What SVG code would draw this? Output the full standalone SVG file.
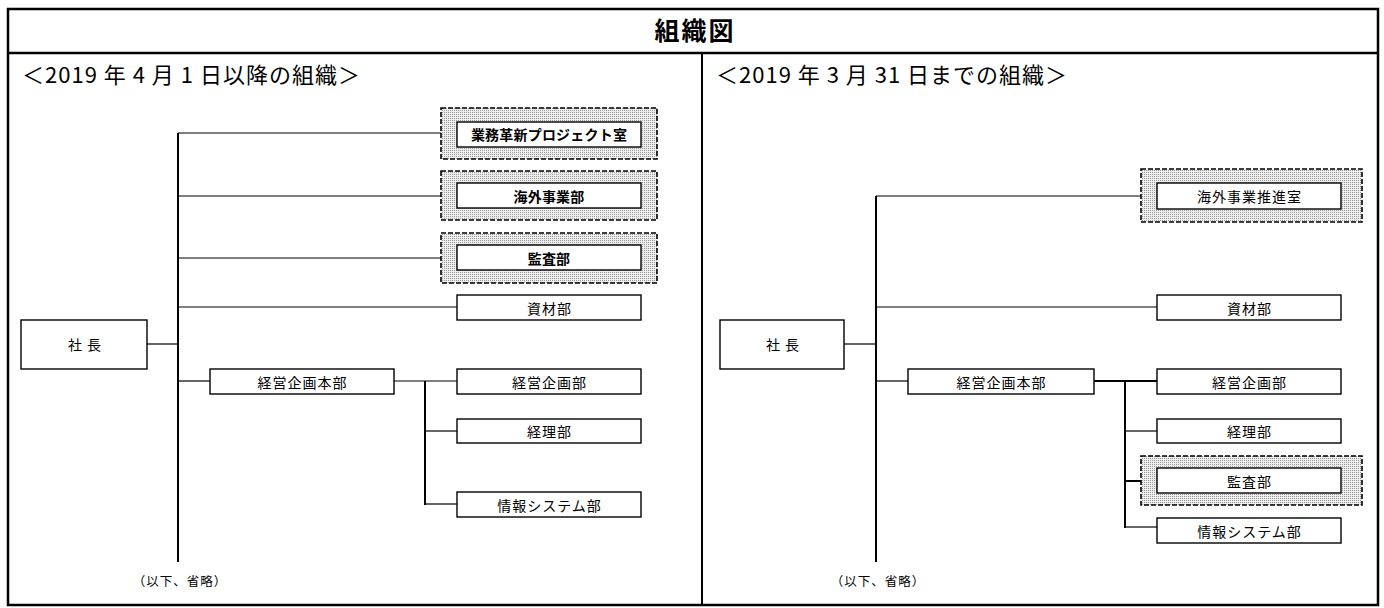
<svg xmlns="http://www.w3.org/2000/svg" width="1384" height="608" viewBox="0 0 1384 608">
<style>
text{font-family:"Noto Sans CJK JP","Noto Sans CJK SC",sans-serif;fill:#000}
.lbl{font-size:14px;text-anchor:middle;dominant-baseline:central;letter-spacing:1px}
.b{font-weight:bold;letter-spacing:0.2px}
.box{fill:#fff;stroke:#000;stroke-width:1.4}
.shade{fill:url(#dots);stroke:#000;stroke-width:1.6;stroke-dasharray:5 2}
.hdr{font-size:22px;letter-spacing:1px}
.note{font-size:12.5px;text-anchor:middle;dominant-baseline:central;letter-spacing:1px}
#conn line{stroke:#000;stroke-width:1.2}
#conn .trunk{stroke-width:2}
#conn .thick{stroke-width:2}
.frame{fill:none;stroke:#000;stroke-width:2.5}
</style>
<defs>
<pattern id="dots" width="2" height="2" patternUnits="userSpaceOnUse">
<rect width="2" height="2" fill="#eeeeee"/>
<rect width="1" height="1" fill="#9a9a9a"/>
</pattern>
</defs>
<rect width="1384" height="608" fill="#fff"/>
<g id="frame">
<rect class="frame" x="8" y="9" width="1370" height="596"/>
<line x1="8" y1="53" x2="1378" y2="53" stroke="#000" stroke-width="2.5"/>
<line x1="702" y1="53" x2="702" y2="605" stroke="#000" stroke-width="2"/>
<text x="695" y="40" font-size="25" font-weight="bold" text-anchor="middle" letter-spacing="2">組織図</text>
<text class="hdr" x="22" y="83">＜2019 年 4 月 1 日以降の組織＞</text>
<text class="hdr" x="716" y="83">＜2019 年 3 月 31 日までの組織＞</text>
</g>
<g id="conn">
<line x1="147" y1="344" x2="178" y2="344"/>
<line class="trunk" x1="178" y1="133" x2="178" y2="562"/>
<line x1="178" y1="133" x2="457" y2="133"/>
<line x1="178" y1="196" x2="457" y2="196"/>
<line x1="178" y1="258" x2="457" y2="258"/>
<line x1="178" y1="307" x2="457" y2="307"/>
<line x1="178" y1="381" x2="210" y2="381"/>
<line x1="394" y1="381" x2="457" y2="381"/>
<line class="trunk" x1="425" y1="381" x2="425" y2="505"/>
<line x1="425" y1="431" x2="457" y2="431"/>
<line x1="425" y1="504" x2="457" y2="504"/>
<line x1="844" y1="344" x2="876" y2="344"/>
<line class="trunk" x1="876" y1="196" x2="876" y2="562"/>
<line x1="876" y1="196" x2="1157" y2="196"/>
<line x1="876" y1="307" x2="1157" y2="307"/>
<line x1="876" y1="381" x2="908" y2="381"/>
<line class="thick" x1="1094" y1="381" x2="1157" y2="381"/>
<line class="trunk" x1="1125" y1="381" x2="1125" y2="528"/>
<line x1="1125" y1="431" x2="1157" y2="431"/>
<line class="thick" x1="1125" y1="481" x2="1157" y2="481"/>
<line x1="1125" y1="527" x2="1157" y2="527"/>
</g>
<g id="L-president"><rect class="box" x="21" y="320" width="126" height="49"/><text class="lbl" x="85" y="344" letter-spacing="3">社 長</text></g>
<g id="L-gyomu"><rect class="shade" x="441" y="108" width="216" height="51"/><rect class="box" x="457" y="122" width="184" height="25"/><text class="lbl b" x="549" y="134">業務革新プロジェクト室</text></g>
<g id="L-kaigai"><rect class="shade" x="441" y="171" width="216" height="49"/><rect class="box" x="457" y="183" width="184" height="25"/><text class="lbl b" x="549" y="195.5">海外事業部</text></g>
<g id="L-kansa"><rect class="shade" x="441" y="233" width="216" height="50"/><rect class="box" x="457" y="245" width="184" height="25"/><text class="lbl b" x="549" y="257.5">監査部</text></g>
<g id="L-shizai"><rect class="box" x="457" y="295" width="184" height="25"/><text class="lbl" x="549.5" y="307.5">資材部</text></g>
<g id="L-honbu"><rect class="box" x="210" y="369" width="184" height="25"/><text class="lbl" x="302.5" y="381.5">経営企画本部</text></g>
<g id="L-kikaku"><rect class="box" x="457" y="369" width="184" height="25"/><text class="lbl" x="549.5" y="381.5">経営企画部</text></g>
<g id="L-keiri"><rect class="box" x="457" y="419" width="184" height="24"/><text class="lbl" x="549.5" y="431">経理部</text></g>
<g id="L-joho"><rect class="box" x="457" y="492" width="184" height="25"/><text class="lbl" x="549.5" y="504.5">情報システム部</text></g>
<g id="L-note"><text class="note" x="180" y="580">（以下、省略）</text></g>
<g id="R-president"><rect class="box" x="720" y="320" width="124" height="49"/><text class="lbl" x="783" y="344" letter-spacing="3">社 長</text></g>
<g id="R-kaigai"><rect class="shade" x="1141" y="169" width="221" height="53"/><rect class="box" x="1157" y="183" width="184" height="26"/><text class="lbl" x="1249.5" y="196">海外事業推進室</text></g>
<g id="R-shizai"><rect class="box" x="1157" y="295" width="184" height="25"/><text class="lbl" x="1249.5" y="307.5">資材部</text></g>
<g id="R-honbu"><rect class="box" x="908" y="369" width="186" height="25"/><text class="lbl" x="1001.5" y="381.5">経営企画本部</text></g>
<g id="R-kikaku"><rect class="box" x="1157" y="369" width="184" height="25"/><text class="lbl" x="1249.5" y="381.5">経営企画部</text></g>
<g id="R-keiri"><rect class="box" x="1157" y="419" width="184" height="24"/><text class="lbl" x="1249.5" y="431">経理部</text></g>
<g id="R-kansa"><rect class="shade" x="1141" y="456" width="221" height="49"/><rect class="box" x="1157" y="468" width="184" height="25"/><text class="lbl" x="1249.5" y="480.5">監査部</text></g>
<g id="R-joho"><rect class="box" x="1157" y="518" width="184" height="25"/><text class="lbl" x="1249.5" y="530.5">情報システム部</text></g>
<g id="R-note"><text class="note" x="878" y="580">（以下、省略）</text></g>
</svg>
